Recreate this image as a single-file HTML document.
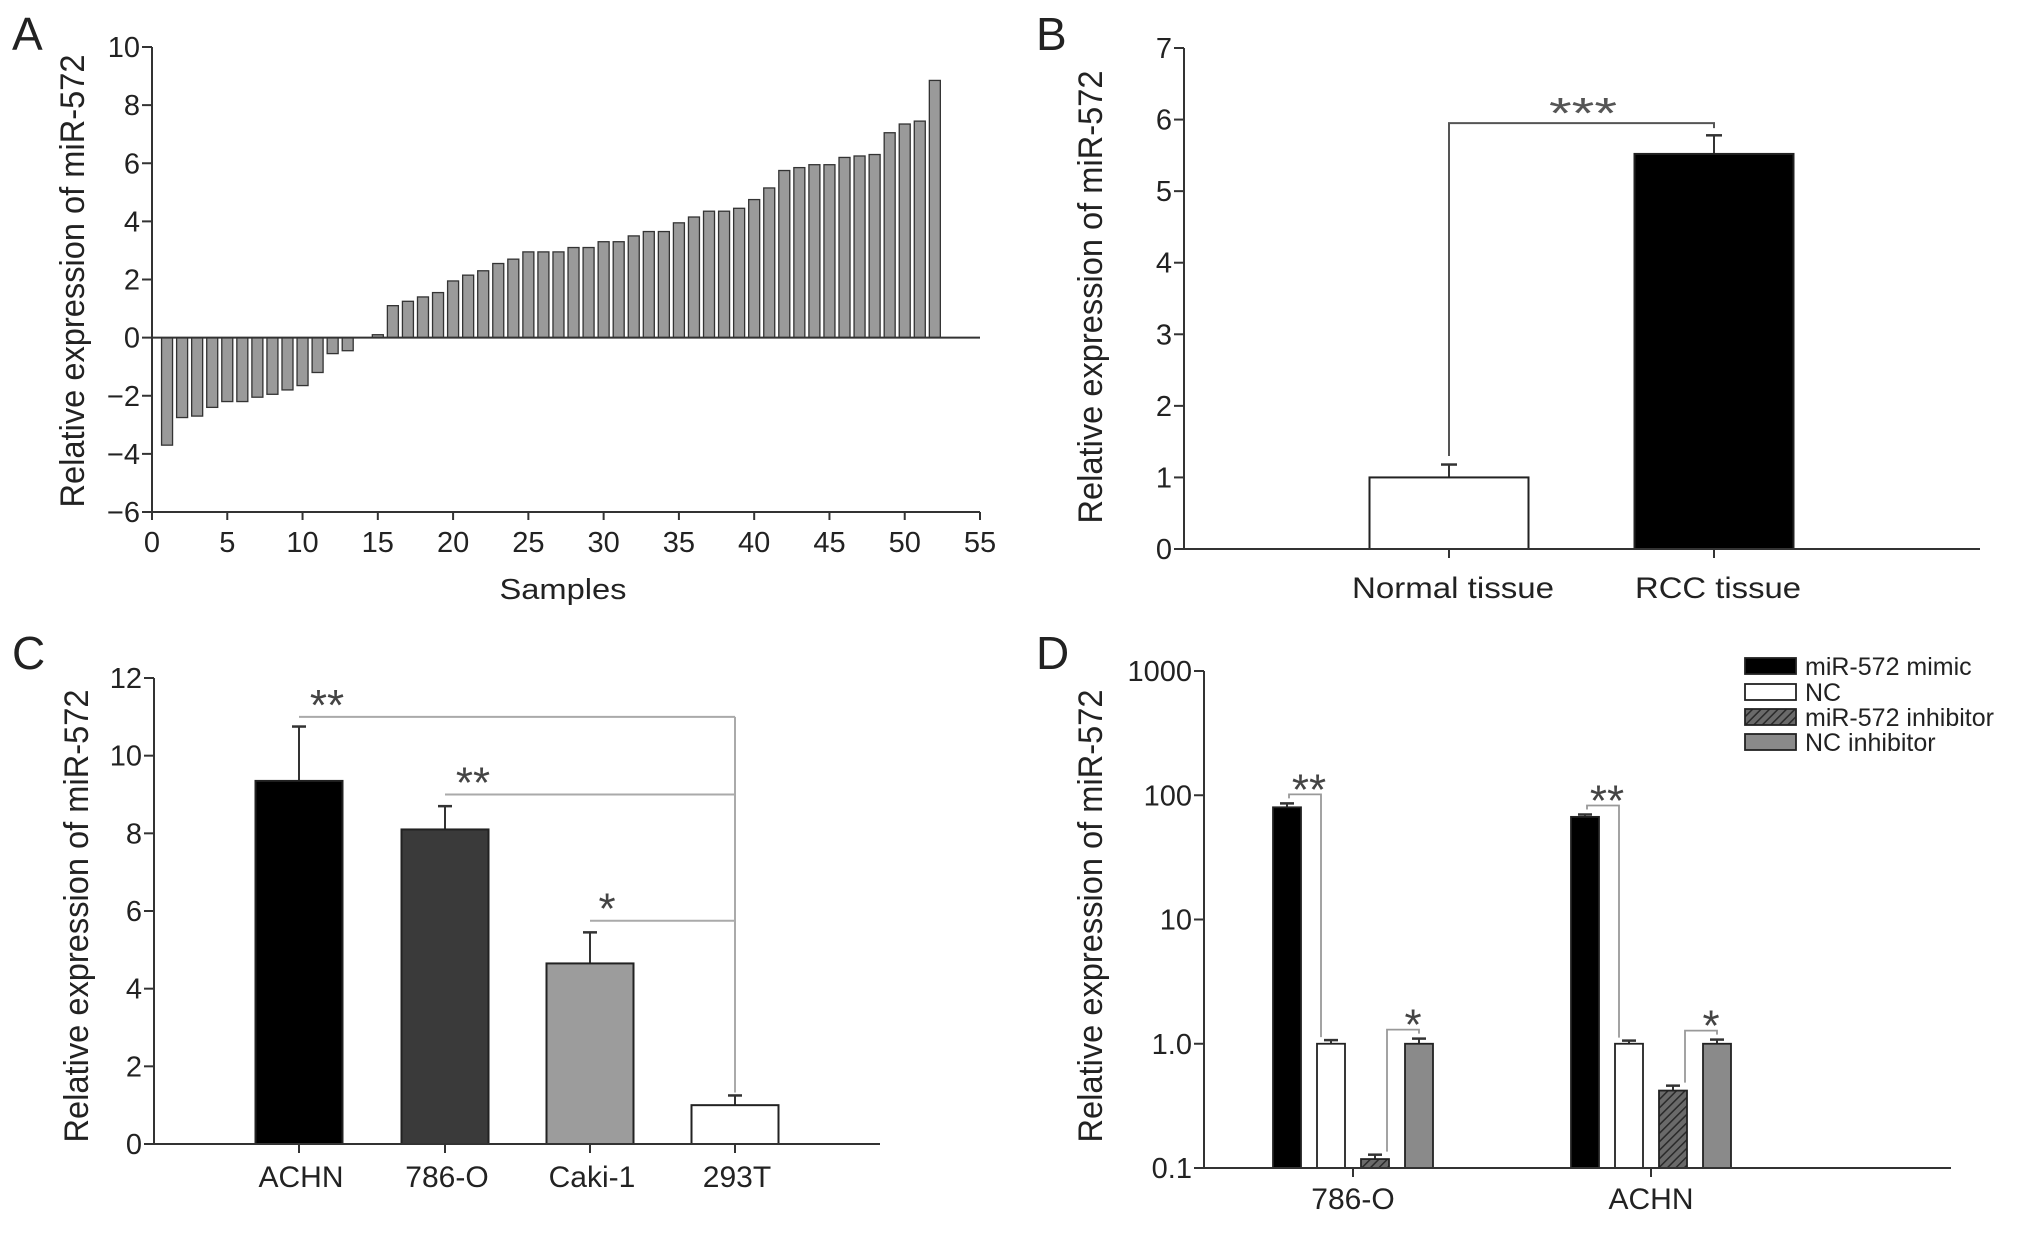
<!DOCTYPE html>
<html><head><meta charset="utf-8"><style>
html,body{margin:0;padding:0;background:#fff;overflow:hidden;}
svg{display:block;font-family:"Liberation Sans",sans-serif;}
</style></head><body>
<svg id="fig" width="2032" height="1238" viewBox="0 0 2032 1238" xmlns="http://www.w3.org/2000/svg">
<defs>
<pattern id="hatch" patternUnits="userSpaceOnUse" width="6" height="6" patternTransform="rotate(45)">
<rect width="6" height="6" fill="#6a6a6a"/><line x1="0" y1="0" x2="0" y2="6" stroke="#2a2a2a" stroke-width="3"/>
</pattern>
</defs>
</svg>
<script>
// ---------- data ----------
const aSamples = [1,2,3,4,5,6,7,8,9,10,11,12,13,14,15,16,17,18,19,20,21,22,23,24,25,26,27,28,29,30,31,32,33,34,35,36,37,38,39,40,41,42,43,44,45,46,47,48,49,50,51,52];
const aValues = [-3.7,-2.75,-2.7,-2.4,-2.2,-2.2,-2.05,-1.95,-1.8,-1.65,-1.2,-0.55,-0.45,0,0.1,1.1,1.25,1.4,1.55,1.95,2.15,2.3,2.55,2.7,2.95,2.95,2.95,3.1,3.1,3.3,3.3,3.5,3.65,3.65,3.95,4.15,4.35,4.35,4.45,4.75,5.15,5.75,5.85,5.95,5.95,6.2,6.25,6.3,7.05,7.35,7.45,8.85];
const aYTicks = [-6,-4,-2,0,2,4,6,8,10];
const aXTicks = [0,5,10,15,20,25,30,35,40,45,50,55];

const bCategories = ["Normal tissue","RCC tissue"];
const bValues = [1.0,5.52];
const bErrors = [0.18,0.26];
const bYTicks = [0,1,2,3,4,5,6,7];

const cCategories = ["ACHN","786-O","Caki-1","293T"];
const cValues = [9.35,8.1,4.65,1.0];
const cErrors = [1.4,0.6,0.8,0.25];
const cYTicks = [0,2,4,6,8,10,12];
const cSigLevels = [11.0,9.0,5.75];
const cSigLabels = ["**","**","*"];

const dGroups = ["786-O","ACHN"];
const dSeries = ["miR-572 mimic","NC","miR-572 inhibitor","NC inhibitor"];
const dMimic = [80,67];
const dNC = [1.0,1.0];
const dInhibitor = [0.118,0.42];
const dNCInhibitor = [1.0,1.0];
const dMimicErr = [6,3];
const dNCErr = [0.07,0.06];
const dInhibitorErr = [0.01,0.04];
const dNCInhibitorErr = [0.1,0.08];
const dYTicks = [0.1,1,10,100,1000];
const dYTickLabels = ["0.1","1.0","10","100","1000"];

// ---------- helpers ----------
const svg = document.getElementById('fig');
const NS = "http://www.w3.org/2000/svg";
function mk(tag, attrs, parent){
  const e = document.createElementNS(NS, tag);
  for (const k in attrs) e.setAttribute(k, attrs[k]);
  (parent||svg).appendChild(e);
  return e;
}
function txt(str, x, y, size, anchor, parent, opts){
  const e = mk('text', {x:x, y:y, 'font-size':size, 'text-anchor':anchor||'middle', fill:'#222'}, parent);
  if (opts && opts.len) { e.setAttribute('textLength', opts.len); e.setAttribute('lengthAdjust','spacingAndGlyphs'); }
  if (opts && opts.rot) e.setAttribute('transform', 'rotate(-90 '+x+' '+y+')');
  e.textContent = str;
  return e;
}
const AX = '#333';
const TF = 29;   // tick font
const LF = 46;   // panel letter font
const SF = 44;   // star font

// ================= Panel A =================
(function(){
  const g = mk('g', {});
  
  
  const x0=152, x1=980, yTop=47, yBot=512;
  const xs = v => x0 + v/55*(x1-x0);
  const ys = v => yBot - (v+6)/16*(yBot-yTop);
  const lab = txt('A', 12, 50, LF, 'start', g);
   
  aValues.forEach((v,i)=>{
    const cx = xs(aSamples[i]);
    const y = Math.min(ys(v), ys(0)), h = Math.abs(ys(v)-ys(0));
    if (h < 0.5) return;
    const r = mk('rect',{x:cx-5.5,y:y,width:11,height:h,fill:'#9a9a9a',stroke:'#333','stroke-width':1.3}, g);
    
    
  });
  const ya = mk('line',{x1:x0,y1:yTop,x2:x0,y2:yBot,stroke:AX,'stroke-width':2},g);
   
  const xa = mk('line',{x1:x0,y1:yBot,x2:x1,y2:yBot,stroke:AX,'stroke-width':2},g);
   
  const zl = mk('line',{x1:x0,y1:ys(0),x2:x1,y2:ys(0),stroke:AX,'stroke-width':2},g);
   
  aYTicks.forEach(t=>{
    mk('line',{x1:x0-10,y1:ys(t),x2:x0,y2:ys(t),stroke:AX,'stroke-width':2},g);
    const l = txt((t<0?'\u2212':'')+Math.abs(t), x0-12, ys(t)+10, TF, 'end', g);
     
  });
  aXTicks.forEach(t=>{
    mk('line',{x1:xs(t),y1:yBot,x2:xs(t),y2:yBot+8,stroke:AX,'stroke-width':2},g);
    const l = txt(String(t), xs(t), 552, TF, 'middle', g);
     
  });
  const xt = txt('Samples', 563, 599, 29, 'middle', g, {len:127});
   
  const yt = txt('Relative expression of miR-572', 84, 281, 34, 'middle', g, {rot:true, len:453});
   
})();

// ================= Panel B =================
(function(){
  const g = mk('g', {});
  
  
  const x0=1184, x1=1980, yTop=48, yBot=549;
  const ys = v => yBot - v/7*(yBot-yTop);
  const centers = [1449,1714];
  const bw = 159;
  const lab = txt('B', 1036, 50, LF, 'start', g);
   
  const fills = ['#fff','#000'];
  bValues.forEach((v,i)=>{
    const cx = centers[i];
    const e = mk('line',{x1:cx,y1:ys(v),x2:cx,y2:ys(v+bErrors[i]),stroke:AX,'stroke-width':2},g);
     
    mk('line',{x1:cx-8,y1:ys(v+bErrors[i]),x2:cx+8,y2:ys(v+bErrors[i]),stroke:AX,'stroke-width':2.5},g);
    const r = mk('rect',{x:cx-bw/2,y:ys(v),width:bw,height:ys(0)-ys(v),fill:fills[i],stroke:'#222','stroke-width':2},g);
     
    mk('line',{x1:cx,y1:yBot,x2:cx,y2:yBot+9,stroke:AX,'stroke-width':2},g);
    const l = txt(bCategories[i], cx+4, 598, 30, 'middle', g, {len: i?166:202});
     
  });
  const by = ys(5.95);
  const br = mk('polyline',{points:centers[0]+','+ys(1.3)+' '+centers[0]+','+by+' '+centers[1]+','+by+' '+centers[1]+','+(by+5),fill:'none',stroke:'#555','stroke-width':2},g);
   
  const st = txt('***', 1583, by+5, SF, 'middle', g, {len:68});
  st.setAttribute('fill','#555');
   
  const ya = mk('line',{x1:x0,y1:yTop,x2:x0,y2:yBot,stroke:AX,'stroke-width':2},g);
   
  const xa = mk('line',{x1:x0,y1:yBot,x2:x1,y2:yBot,stroke:AX,'stroke-width':2},g);
   
  bYTicks.forEach(t=>{
    mk('line',{x1:x0-10,y1:ys(t),x2:x0,y2:ys(t),stroke:AX,'stroke-width':2},g);
    const l = txt(String(t), x0-12, ys(t)+10, TF, 'end', g);
     
  });
  const yt = txt('Relative expression of miR-572', 1102, 297, 34, 'middle', g, {rot:true, len:453});
   
})();

// ================= Panel C =================
(function(){
  const g = mk('g', {});
  
  
  const x0=154, x1=880, yTop=678, yBot=1144;
  const ys = v => yBot - v/12*(yBot-yTop);
  const centers = [299,445,590,735];
  const bw = 87;
  const lab = txt('C', 12, 669, LF, 'start', g);
   
  const fills = ['#000','#3a3a3a','#9c9c9c','#fff'];
  cSigLevels.forEach((lv,i)=>{
    const b = mk('line',{x1:centers[i],y1:ys(lv),x2:centers[3],y2:ys(lv),stroke:'#aaa','stroke-width':2},g);
     
    const s = txt(cSigLabels[i], centers[i]+(cSigLabels[i].length>1?28:17), ys(lv)+3, SF, 'middle', g);
    s.setAttribute('fill','#444');
     
  });
  mk('line',{x1:centers[3],y1:ys(cSigLevels[0]),x2:centers[3],y2:ys(cValues[3]+cErrors[3])-3,stroke:'#aaa','stroke-width':2},g);
  cValues.forEach((v,i)=>{
    const cx = centers[i];
    const e = mk('line',{x1:cx,y1:ys(v),x2:cx,y2:ys(v+cErrors[i]),stroke:AX,'stroke-width':2},g);
     
    mk('line',{x1:cx-7,y1:ys(v+cErrors[i]),x2:cx+7,y2:ys(v+cErrors[i]),stroke:AX,'stroke-width':2.5},g);
    const r = mk('rect',{x:cx-bw/2,y:ys(v),width:bw,height:ys(0)-ys(v),fill:fills[i],stroke:'#222','stroke-width':2},g);
     
    mk('line',{x1:cx,y1:yBot,x2:cx,y2:yBot+9,stroke:AX,'stroke-width':2},g);
    const l = txt(cCategories[i], cx+2, 1187, 30, 'middle', g);
     
  });
  const ya = mk('line',{x1:x0,y1:yTop,x2:x0,y2:yBot,stroke:AX,'stroke-width':2},g);
   
  const xa = mk('line',{x1:x0,y1:yBot,x2:x1,y2:yBot,stroke:AX,'stroke-width':2},g);
   
  cYTicks.forEach(t=>{
    mk('line',{x1:x0-10,y1:ys(t),x2:x0,y2:ys(t),stroke:AX,'stroke-width':2},g);
    const l = txt(String(t), x0-12, ys(t)+10, TF, 'end', g);
     
  });
  const yt = txt('Relative expression of miR-572', 88, 916, 34, 'middle', g, {rot:true, len:453});
   
})();

// ================= Panel D =================
(function(){
  const g = mk('g', {});
  
  
  const x0=1204, x1=1951, yTop=671, yBot=1168;
  const ys = v => yBot - (Math.log10(v)+1)/4*(yBot-yTop);
  const groupCenters = [1353,1651];
  const offs = [-66,-22,22,66];
  const bw = 28;
  const lab = txt('D', 1036, 669, LF, 'start', g);
   
  const seriesVals = [dMimic,dNC,dInhibitor,dNCInhibitor];
  const seriesErr = [dMimicErr,dNCErr,dInhibitorErr,dNCInhibitorErr];
  const fills = ['#000','#fff','url(#hatch)','#8a8a8a'];
  function bracket(xa, ya_, xb, yEnd, label, sx){
    const p = mk('polyline',{points:xa+','+(ya_+4)+' '+xa+','+ya_+' '+xb+','+ya_+' '+xb+','+yEnd,fill:'none',stroke:'#999','stroke-width':1.8},g);
     
    const s = txt(label, sx, ya_+10, SF, 'middle', g);
    s.setAttribute('fill','#444');
     
  }
  groupCenters.forEach((gc,gi)=>{
    seriesVals.forEach((arr,si)=>{
      const cx = gc + offs[si];
      const v = arr[gi], e = seriesErr[si][gi];
      mk('line',{x1:cx,y1:ys(v),x2:cx,y2:ys(v+e),stroke:AX,'stroke-width':2},g);
      mk('line',{x1:cx-7,y1:ys(v+e),x2:cx+7,y2:ys(v+e),stroke:AX,'stroke-width':2.5},g);
      const r = mk('rect',{x:cx-bw/2,y:ys(v),width:bw,height:ys(0.1)-ys(v),fill:fills[si],stroke:'#222','stroke-width':1.8},g);
      
      
    });
    mk('line',{x1:gc,y1:yBot,x2:gc,y2:yBot+9,stroke:AX,'stroke-width':2},g);
    const l = txt(dGroups[gi], gc, 1209, 30, 'middle', g);
     
    const xm = gc+offs[0], xn = gc+offs[1], xi = gc+offs[2], xq = gc+offs[3];
    const topMN = ys(dMimic[gi]+dMimicErr[gi]) - 9;
    bracket(xm+2, topMN, xn-10, ys(dNC[gi]+dNCErr[gi])-3, '**', xm+22);
    const topIQ = ys(dNCInhibitor[gi]+dNCInhibitorErr[gi]) - 9;
    bracket(xq, topIQ, xi+12, ys(dInhibitor[gi]+dInhibitorErr[gi])-3, '*', xi+38);
  });
  const ya = mk('line',{x1:x0,y1:yTop,x2:x0,y2:yBot,stroke:AX,'stroke-width':2},g);
   
  const xa = mk('line',{x1:x0,y1:yBot,x2:x1,y2:yBot,stroke:AX,'stroke-width':2},g);
   
  dYTicks.forEach((t,i)=>{
    mk('line',{x1:x0-10,y1:ys(t),x2:x0,y2:ys(t),stroke:AX,'stroke-width':2},g);
    const l = txt(dYTickLabels[i], x0-12, ys(t)+10, TF, 'end', g);
     
  });
  const yt = txt('Relative expression of miR-572', 1102, 916, 34, 'middle', g, {rot:true, len:453});
   
  const lg = mk('g',{},g);
   
  const rows = [666,692,717,742];
  dSeries.forEach((s,i)=>{
    const sw = mk('rect',{x:1745,y:rows[i]-8,width:51,height:16,fill:fills[i],stroke:'#222','stroke-width':1.8},lg);
     
    const t = txt(s, 1805, rows[i]+9, 25, 'start', lg);
     
  });
})();
</script>
</body></html>
